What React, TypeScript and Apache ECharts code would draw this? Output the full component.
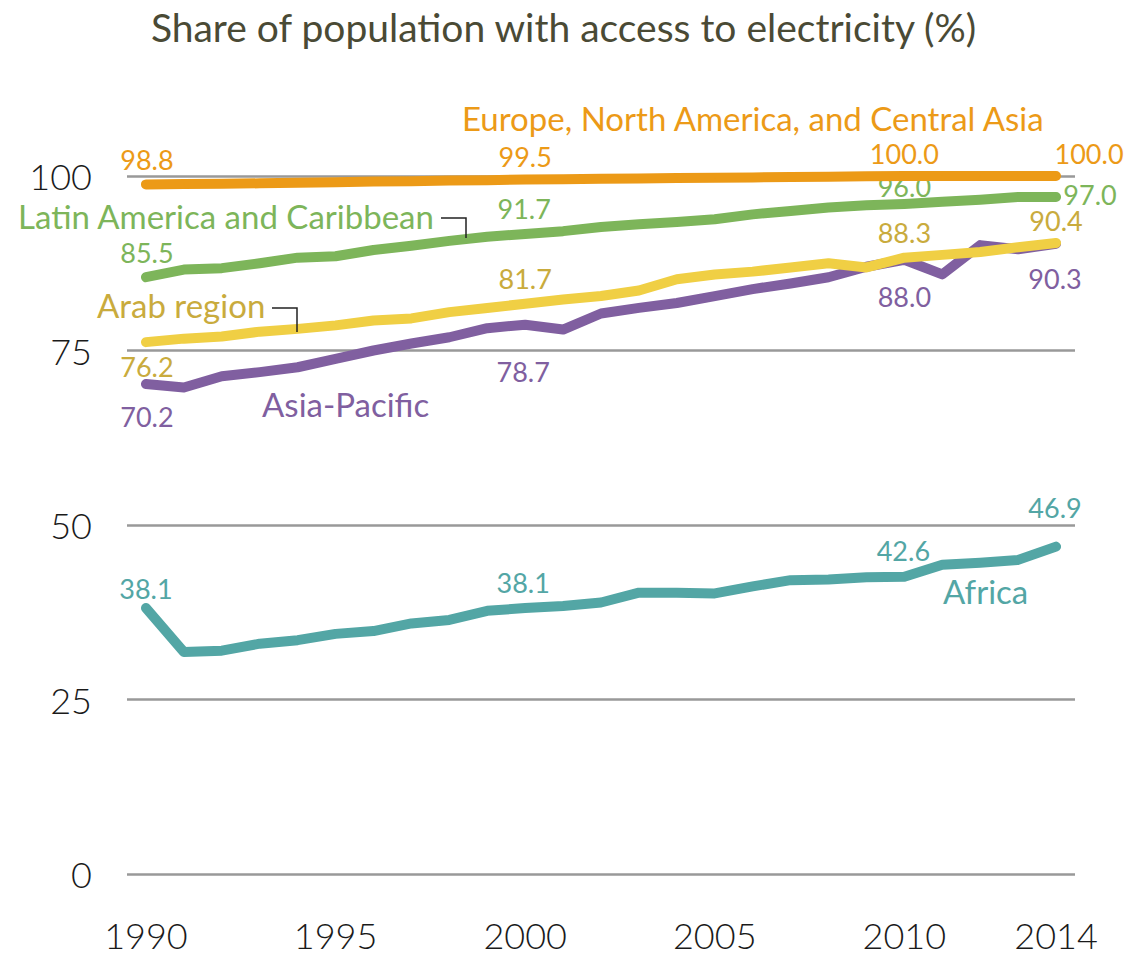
import React, { useEffect, useRef } from "react";
import * as echarts from "echarts";

// Years on the horizontal axis
const years: string[] = [
  "1990", "1991", "1992", "1993", "1994", "1995", "1996", "1997", "1998", "1999",
  "2000", "2001", "2002", "2003", "2004", "2005", "2006", "2007", "2008", "2009",
  "2010", "2011", "2012", "2013", "2014",
];

// Year labels shown under the axis
const shownYears: string[] = ["1990", "1995", "2000", "2005", "2010", "2014"];

// Share of population with access to electricity (%), by region
const europeNAmCAsia: number[] = [
  98.8, 98.85, 98.9, 98.95, 99.05, 99.1, 99.2, 99.25, 99.35, 99.4,
  99.5, 99.55, 99.6, 99.65, 99.7, 99.75, 99.8, 99.85, 99.9, 99.95,
  100.0, 100.0, 100.0, 100.0, 100.0,
];
const latinAmerica: number[] = [
  85.5, 86.6, 86.8, 87.5, 88.3, 88.5, 89.4, 90.0, 90.7, 91.3,
  91.7, 92.1, 92.7, 93.1, 93.4, 93.8, 94.5, 95.0, 95.5, 95.8,
  96.0, 96.3, 96.6, 97.0, 97.0,
];
const arabRegion: number[] = [
  76.2, 76.7, 77.0, 77.7, 78.1, 78.6, 79.3, 79.6, 80.5, 81.1,
  81.7, 82.3, 82.8, 83.6, 85.2, 85.9, 86.3, 86.9, 87.5, 86.9,
  88.3, 88.7, 89.1, 89.8, 90.4,
];
const asiaPacific: number[] = [
  70.2, 69.7, 71.3, 71.9, 72.6, 73.8, 75.0, 76.0, 76.9, 78.2,
  78.7, 78.0, 80.3, 81.1, 81.8, 82.8, 83.8, 84.6, 85.5, 87.0,
  88.0, 85.9, 90.1, 89.5, 90.3,
];
const africa: number[] = [
  38.1, 31.8, 32.0, 33.0, 33.5, 34.4, 34.8, 35.9, 36.4, 37.7,
  38.1, 38.4, 38.9, 40.3, 40.3, 40.2, 41.2, 42.1, 42.2, 42.5,
  42.6, 44.3, 44.6, 45.0, 46.9,
];

// Value axis ticks
const yTicks = { min: 0, max: 100, interval: 25 };

const COLORS = {
  europe: "#EC9A17",
  latin: "#7DB55A",
  arabLine: "#F0CF44",
  arabText: "#C9AB3D",
  asia: "#805FA0",
  africa: "#53A6A5",
};

// Which points carry a value label and where the label sits relative to the point
type LabelSpec = { index: number; offset: [number, number] };

const europeLabels: LabelSpec[] = [
  { index: 0, offset: [1, -25] },
  { index: 10, offset: [0, -23] },
  { index: 20, offset: [0, -23] },
  { index: 24, offset: [33, -23] },
];
const latinLabels: LabelSpec[] = [
  { index: 0, offset: [1, -25] },
  { index: 10, offset: [-1, -25] },
  { index: 20, offset: [0, -17] },
  { index: 24, offset: [34, -2] },
];
const arabLabels: LabelSpec[] = [
  { index: 0, offset: [1, 24] },
  { index: 10, offset: [0, -25] },
  { index: 20, offset: [0, -25] },
  { index: 24, offset: [0, -23] },
];
const asiaLabels: LabelSpec[] = [
  { index: 0, offset: [1, 32] },
  { index: 10, offset: [-2, 47] },
  { index: 20, offset: [0, 37] },
  { index: 24, offset: [-1, 35] },
];
const africaLabels: LabelSpec[] = [
  { index: 0, offset: [0, -20] },
  { index: 10, offset: [-2, -26] },
  { index: 20, offset: [-1, -26] },
  { index: 24, offset: [-1, -39] },
];

const LABEL_FONT = "Lato, 'Open Sans', sans-serif";
const NAME_SIZE = 33;

function buildData(values: number[], labels: LabelSpec[], textColor: string) {
  return values.map((v, i) => {
    const spec = labels.find((l) => l.index === i);
    if (!spec) return v;
    return {
      value: v,
      label: {
        show: true,
        position: "inside",
        offset: spec.offset,
        formatter: (p: any) => Number(p.value).toFixed(1),
        color: textColor,
        fontSize: 27,
        lineHeight: 24,
        fontFamily: LABEL_FONT,
        fontWeight: 400,
      },
    };
  });
}

function lineSeries(name: string, values: number[], labels: LabelSpec[], lineColor: string, textColor: string, z: number) {
  return {
    name,
    type: "line",
    data: buildData(values, labels, textColor),
    symbol: "circle",
    symbolSize: 1,
    showSymbol: true,
    z,
    lineStyle: { color: lineColor, width: 10, cap: "round", join: "round" },
    itemStyle: { color: lineColor },
    label: { show: false },
    emphasis: { disabled: true },
  };
}

// Region name placed next to its line; top is the upper edge of the text box
function nameText(text: string, left: number, top: number, fill: string) {
  return {
    type: "text",
    left,
    top,
    z: 10,
    style: { text, fill, fontSize: NAME_SIZE, lineHeight: 24, fontFamily: LABEL_FONT },
  };
}

function connector(points: number[][]) {
  return {
    type: "polyline",
    z: 10,
    shape: { points },
    style: { stroke: "#222222", lineWidth: 1.5, fill: null },
  };
}

export default function App() {
  const ref = useRef<HTMLDivElement>(null);

  useEffect(() => {
    document.body.style.margin = "0";
    if (!ref.current) return;
    const chart = echarts.init(ref.current, undefined, { renderer: "svg" });

    const option: any = {
      animation: false,
      backgroundColor: "#ffffff",
      title: {
        text: "Share of population with access to electricity (%)",
        left: "center",
        top: 2,
        textStyle: {
          color: "#4A4A35",
          fontSize: 39,
          fontWeight: 400,
          fontFamily: "Lato, 'Open Sans', sans-serif",
        },
      },
      grid: { left: 127, right: 52, top: 176, bottom: 85, containLabel: false },
      xAxis: {
        type: "category",
        data: years,
        boundaryGap: true,
        axisLine: { show: false },
        axisTick: { show: false },
        axisLabel: {
          interval: (_i: number, value: string) => shownYears.includes(value),
          color: "#1A1A1A",
          fontSize: 36,
          fontWeight: 300,
          fontFamily: LABEL_FONT,
          margin: 43,
        },
        splitLine: { show: false },
      },
      yAxis: {
        type: "value",
        min: yTicks.min,
        max: yTicks.max,
        interval: yTicks.interval,
        axisLine: { show: false },
        axisTick: { show: false },
        axisLabel: {
          color: "#1A1A1A",
          fontSize: 36,
          lineHeight: 26,
          fontWeight: 300,
          fontFamily: LABEL_FONT,
          margin: 35,
        },
        splitLine: { show: true, lineStyle: { color: "#999999", width: 2.5 } },
      },
      series: [
        lineSeries("Africa", africa, africaLabels, COLORS.africa, COLORS.africa, 2),
        lineSeries("Asia-Pacific", asiaPacific, asiaLabels, COLORS.asia, COLORS.asia, 3),
        lineSeries("Arab region", arabRegion, arabLabels, COLORS.arabLine, COLORS.arabText, 4),
        lineSeries("Latin America and Caribbean", latinAmerica, latinLabels, COLORS.latin, COLORS.latin, 5),
        lineSeries("Europe, North America, and Central Asia", europeNAmCAsia, europeLabels, COLORS.europe, COLORS.europe, 6),
      ],
      graphic: [
        nameText("Europe, North America, and Central Asia", 462, 101, COLORS.europe),
        nameText("Latin America and Caribbean", 18, 199, COLORS.latin),
        connector([[441, 218], [466, 218], [466, 238]]),
        nameText("Arab region", 97, 288, COLORS.arabText),
        connector([[272, 308], [297, 308], [297, 332]]),
        nameText("Asia-Pacific", 262, 387, COLORS.asia),
        nameText("Africa", 943, 574, COLORS.africa),
      ],
    };

    chart.setOption(option);
    return () => chart.dispose();
  }, []);

  return <div ref={ref} style={{ width: 1127, height: 959 }} />;
}
